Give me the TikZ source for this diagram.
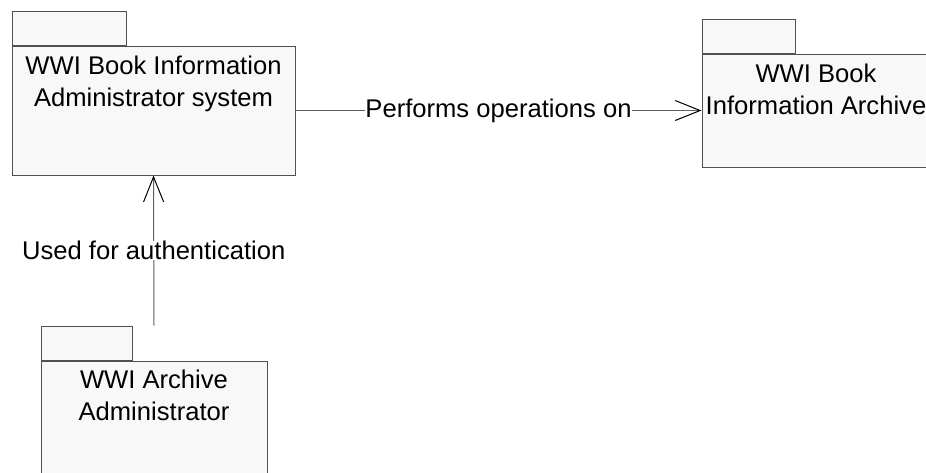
\documentclass[tikz,border=0pt]{standalone}
\usepackage{fontspec}
\setmainfont{Liberation Sans}
\usetikzlibrary{arrows.meta}

\definecolor{pkgline}{HTML}{505050}
\definecolor{pkgfill}{HTML}{F8F8F8}
\definecolor{assocline}{HTML}{606060}

\tikzset{
    pkgbody/.style={draw=pkgline, fill=pkgfill, line width=0.5pt, inner sep=0pt},
    pkgtab/.style={draw=pkgline, fill=pkgfill, line width=0.5pt, inner sep=0pt, anchor=south west, minimum height=17pt},
    pkgtext/.style={anchor=north, inner sep=0pt, align=center, font=\fontsize{12.8pt}{16pt}\selectfont},
    assoc/.style={draw=assocline, line width=0.5pt, -{Straight Barb[length=12.5pt, width=10pt, black]}},
    assoclabel/.style={fill=white, inner sep=0pt, font=\fontsize{12.8pt}{16pt}\selectfont}
}

\begin{document}
\begin{tikzpicture}[x=0.5pt, y=-0.5pt]
    \useasboundingbox (0,0) rectangle (926,472);
    \clip (0,0) rectangle (926,472);

    \node[pkgbody, minimum width=141.5pt, minimum height=64.5pt] (sys) at (153.5,110.5) {};
    \node[pkgtab, minimum width=57pt] (sys tab) at (sys.north west) {};
    \node[pkgtext] (sys text) at ([yshift=-5pt]sys.north) {WWI Book Information\\Administrator system};

    \node[pkgbody, minimum width=114pt, minimum height=56.5pt] (arch) at (816,110.5) {};
    \node[pkgtab, minimum width=46.5pt] (arch tab) at (arch.north west) {};
    \node[pkgtext] (arch text) at ([yshift=-5pt]arch.north) {WWI Book\\Information Archive};

    \node[pkgbody, minimum width=113pt, minimum height=60pt] (admin) at (154,421) {};
    \node[pkgtab, minimum width=45.5pt] (admin tab) at (admin.north west) {};
    \node[pkgtext] (admin text) at ([yshift=-4.5pt]admin.north) {WWI Archive\\Administrator};

    \draw[assoc] (sys.east) -- node[assoclabel] {Performs operations on} (arch.west);
    \draw[assoc] (admin.north |- admin tab.north) -- node[assoclabel] {Used for authentication} (sys.south);
\end{tikzpicture}
\end{document}
